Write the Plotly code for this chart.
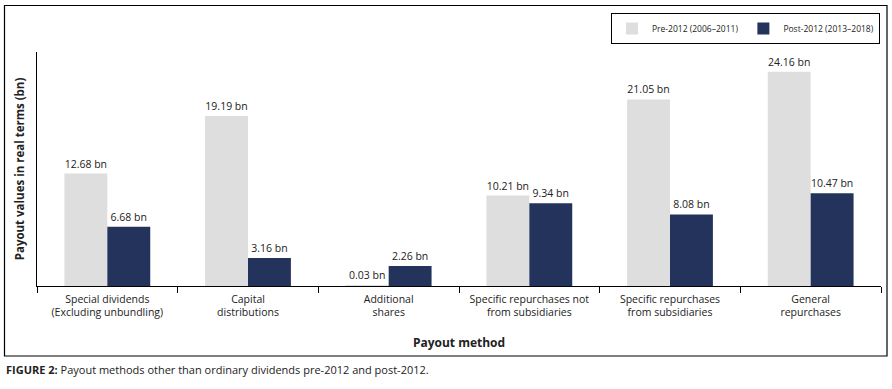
import plotly.graph_objects as go

categories = ["Special dividends<br>(Excluding unbundling)", "Capital<br>distributions",
              "Additional<br>shares", "Specific repurchases not<br>from subsidiaries",
              "Specific repurchases<br>from subsidiaries", "General<br>repurchases"]
pre_2012 = [12.68, 19.19, 0.03, 10.21, 21.05, 24.16]
post_2012 = [6.68, 3.16, 2.26, 9.34, 8.08, 10.47]
series_names = ["Pre-2012 (2006–2011)", "Post-2012 (2013–2018)"]

FONT = "Open Sans"
W, H = 892, 389
L, R, T, B = 4, 4, 5, 103
pw, ph = W - L - R, H - T - B

def px(x):
    return (x - L) / pw

def py(y):
    return (H - B - y) / ph

fig = go.Figure()
fig.add_trace(go.Bar(x=categories, y=pre_2012, name=series_names[0],
                     marker=dict(color="#DEDEDE", line=dict(width=0)),
                     text=[f"{v:.2f} bn" for v in pre_2012], textposition="outside",
                     textfont=dict(family=FONT, size=10.5, color="#222"), cliponaxis=False))
fig.add_trace(go.Bar(x=categories, y=post_2012, name=series_names[1],
                     marker=dict(color="#24335C", line=dict(width=0)),
                     text=[f"{v:.2f} bn" for v in post_2012], textposition="outside",
                     textfont=dict(family=FONT, size=10.5, color="#222"), cliponaxis=False))

fig.update_layout(
    width=W, height=H, margin=dict(l=L, r=R, t=T, b=B, autoexpand=False),
    paper_bgcolor="white", plot_bgcolor="white",
    barmode="group", bargap=0.39, bargroupgap=0,
    font=dict(family=FONT, size=10, color="#222"),
    legend=dict(orientation="h", x=px(880), xanchor="right", y=py(13), yanchor="top",
                bordercolor="black", borderwidth=1, font=dict(size=8.5),
                itemwidth=30, traceorder="normal"),
    showlegend=True,
)
fig.update_xaxes(domain=[px(37), px(881)], automargin=False,
                 showline=True, linecolor="black", linewidth=1, ticks="outside",
                 tickson="boundaries", ticklen=6, tickcolor="black",
                 tickfont=dict(size=10.5), ticklabelstandoff=3, showgrid=False,
                 title=dict(text="<b>Payout method</b>", font=dict(size=12), standoff=20))
fig.update_yaxes(domain=[0, py(52)], automargin=False,
                 range=[0, 26.4], showline=True, linecolor="black", linewidth=1,
                 showticklabels=False, ticks="", showgrid=False, zeroline=False,
                 title=dict(text="<b>Payout values in real terms (bn)</b>",
                            font=dict(size=11.5), standoff=8))

# outer frame
fig.add_shape(type="rect", xref="paper", yref="paper",
              x0=px(4.5), x1=px(887), y0=py(356), y1=py(5.5),
              line=dict(color="black", width=1.2), fillcolor="rgba(0,0,0,0)", layer="above")

fig.add_annotation(xref="paper", yref="paper", x=px(4), y=py(369), xanchor="left",
                   yanchor="middle", showarrow=False,
                   text="<b>FIGURE 2:</b> Payout methods other than ordinary dividends pre-2012 and post-2012.",
                   font=dict(family=FONT, size=11, color="#222"))

fig.write_html("out.html", config={"displayModeBar": False},
               post_script="document.body.style.margin='0';document.body.style.padding='0';"
                           "document.body.style.overflow='hidden';")
